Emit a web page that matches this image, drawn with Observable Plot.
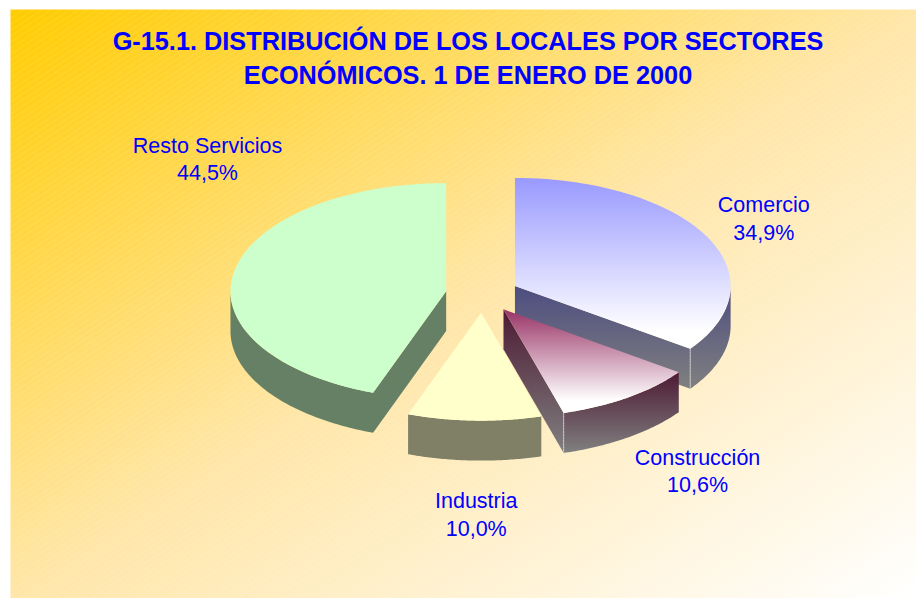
<!DOCTYPE html>
<html>
<head>
<meta charset="utf-8">
<script src="https://cdn.jsdelivr.net/npm/d3@7"></script>
<script src="https://cdn.jsdelivr.net/npm/@observablehq/plot@0.6"></script>
<style>
html,body{margin:0;padding:0;background:#fff}
svg{display:block}
</style>
</head>
<body>
<div id="chart"></div>
<script>
const titleText = "G-15.1. DISTRIBUCIÓN DE LOS LOCALES POR SECTORES\nECONÓMICOS. 1 DE ENERO DE 2000";
const sectors = ["Comercio", "Construcción", "Industria", "Resto Servicios"];
const shares = [34.9, 10.6, 10.0, 44.5];
const shareLabels = ["34,9%", "10,6%", "10,0%", "44,5%"];

// layout (pie units: radius = 1)
const explode = 0.17, depth = 0.37;
const labelAt = [[1.305, 0.712], [0.998, -1.625], [-0.028, -2.028], [-1.274, 1.262]];
const drawOrder = [3, 0, 1, 2];
const topFill = ["url(#topC)", "url(#topK)", "#ffffcc", "#ccffcc"];
const sideFill = ["url(#sideC)", "url(#sideK)", "#808066", "#668066"];

const rad = d => d * 2 * Math.PI / 100;
let acc = 0;
const slices = shares.map((v, i) => {
  const a0 = acc; acc += v;
  const a1 = acc, mid = (a0 + a1) / 2;
  return {i, t0: rad(a0), t1: rad(a1), ox: explode * Math.sin(rad(mid)), oy: explode * Math.cos(rad(mid))};
});
const rim = (s, t) => ({x: s.ox + Math.sin(t), y: s.oy + Math.cos(t)});
const arc = (s, a, b) => d3.range(0, 61).map(k => rim(s, a + (b - a) * k / 60));
const drop = p => ({x: p.x, y: p.y - depth});
const apex = s => ({x: s.ox, y: s.oy});
const close = pts => [...pts, pts[0]];

const marks = [
  () => {
    const defs = d3.create("svg:defs");
    const grad = (id, stops, attrs = {x1: 0, y1: 0, x2: 0, y2: 1}) => {
      const g = defs.append("linearGradient").attr("id", id);
      Object.entries(attrs).forEach(([k, v]) => g.attr(k, v));
      stops.forEach(([o, c]) => g.append("stop").attr("offset", o).attr("stop-color", c));
    };
    grad("bg", [[0, "#ffcc00"], [0.5, "#ffe6a8"], [1, "#ffffff"]], {x1: 0, y1: 0, x2: 1, y2: 1});
    grad("topC", [[0, "#9999ff"], [0.9, "#ffffff"]]);
    grad("topK", [[0, "#993366"], [0.88, "#ffffff"]]);
    grad("sideC", [[0, "#4d4d80"], [1, "#808080"]]);
    grad("sideK", [[0, "#4d1a33"], [1, "#808080"]]);
    const p = defs.append("pattern").attr("id", "stripes").attr("patternUnits", "userSpaceOnUse")
      .attr("width", 5).attr("height", 5).attr("patternTransform", "rotate(-33)");
    p.append("rect").attr("width", 5).attr("height", 1).attr("fill", "#fff").attr("fill-opacity", 0.1);
    return defs.node();
  },
  Plot.frame({fill: "url(#bg)", stroke: "none"}),
  Plot.frame({fill: "url(#stripes)", stroke: "none"})
];

for (const idx of drawOrder) {
  const s = slices[idx];
  const flat = !sideFill[idx].startsWith("url");
  const faces = [];
  const a = Math.max(s.t0, Math.PI / 2), b = Math.min(s.t1, 3 * Math.PI / 2);
  const startWall = Math.sin(s.t0) < -1e-6;
  if (Math.sin(s.t1) > 1e-6) {
    const e = rim(s, s.t1);
    faces.push([apex(s), e, drop(e), drop(apex(s))]);
  }
  if (b > a) {
    const top = arc(s, a, b);
    const wall = [...top, ...top.slice().reverse().map(drop)];
    faces.push(startWall ? [apex(s), ...wall, drop(apex(s))] : wall);
  }
  for (const f of faces) {
    marks.push(Plot.line(close(f), {x: "x", y: "y", fill: sideFill[idx], stroke: "none", curve: "linear"}));
  }
  if (b > a && !flat) {
    const e = rim(s, s.t1);
    marks.push(Plot.line([e, drop(e)], {x: "x", y: "y", stroke: "#d8d8d8", strokeWidth: 0.8, strokeDasharray: "2,1"}));
  }
  marks.push(Plot.line(close([apex(s), ...arc(s, s.t0, s.t1)]), {x: "x", y: "y", fill: topFill[idx], stroke: "none", curve: "linear"}));
}

const labels = sectors.map((n, i) => ({text: n + "\n" + shareLabels[i], x: labelAt[i][0], y: labelAt[i][1]}));
marks.push(Plot.text(labels, {x: "x", y: "y", text: "text", fill: "#0000ff", fontSize: 21.5, lineHeight: 1.27, fontFamily: "Liberation Sans"}));
marks.push(Plot.text([titleText], {frameAnchor: "top", lineAnchor: "top", dx: 4.5, dy: 15.5, fill: "#0000ff", fontSize: 25.3, fontWeight: "bold", lineHeight: 1.37, fontFamily: "Liberation Sans"}));

const cx = 481.8, cy = 293.8, rx = 215.7, ry = 108;
const chart = Plot.plot({
  width: 916, height: 598,
  marginLeft: 10, marginTop: 9, marginRight: 0, marginBottom: 0,
  style: {background: "transparent"},
  x: {axis: null, domain: [-1, 1], range: [cx - rx, cx + rx]},
  y: {axis: null, domain: [-1, 1], range: [cy + ry, cy - ry]},
  marks
});
document.getElementById("chart").append(chart);
</script>
</body>
</html>
